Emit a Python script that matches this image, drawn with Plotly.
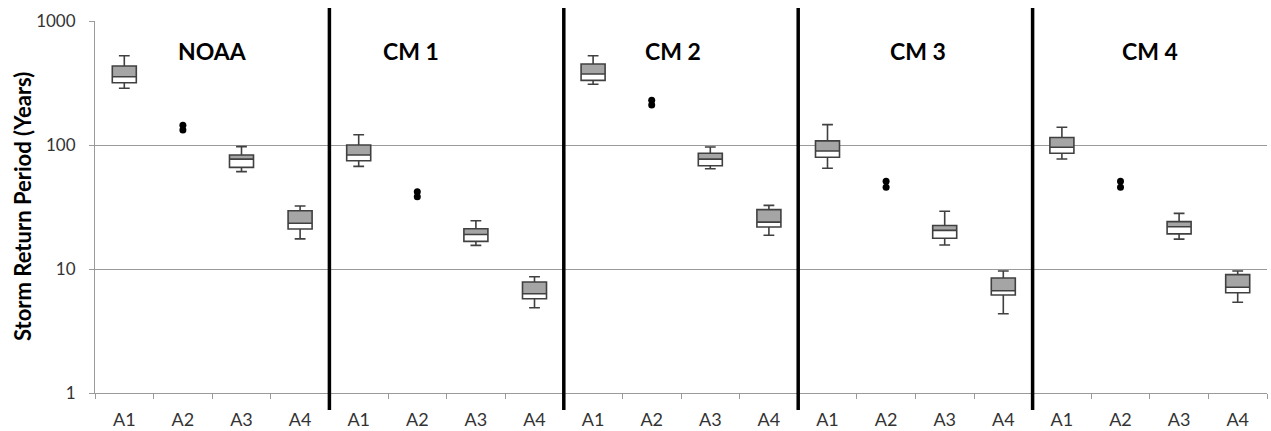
import plotly.graph_objects as go

# Model groups and the sub-categories plotted inside each group
groups = ["NOAA", "CM 1", "CM 2", "CM 3", "CM 4"]
sub_labels = ["A1", "A2", "A3", "A4"]

# Box statistics (years) for A1, A3, A4 of each group, in group order
box_sub = ["A1", "A3", "A4"]
whisker_low = [287, 61, 17.5, 67.3, 15.5, 4.87, 309, 64.4, 18.7, 64.9, 15.6, 4.36, 77.1, 17.4, 5.39]
q1 = [318, 66, 21.0, 74.7, 16.7, 5.76, 332, 68.1, 21.8, 79.6, 17.7, 6.17, 85.7, 19.2, 6.44]
median = [355, 77, 23.4, 83, 19.0, 6.32, 374, 77, 23.9, 89.5, 20.5, 6.68, 95.8, 21.9, 7.12]
q3 = [434, 83, 29.5, 100, 21.1, 7.86, 450, 85.7, 30.1, 108, 22.4, 8.46, 115, 24.1, 9.0]
whisker_high = [525, 97, 32.2, 121, 24.5, 8.67, 525, 96.4, 32.6, 146, 29.2, 9.64, 139, 28.1, 9.64]

# A2 has only two values per group, shown as points
a2_values = {
    "NOAA": [144, 132],
    "CM 1": [42, 38.3],
    "CM 2": [230, 210],
    "CM 3": [51, 45.6],
    "CM 4": [51, 45.6],
}

n_sub = len(sub_labels)
box_x = [g * n_sub + sub_labels.index(s) for g in range(len(groups)) for s in box_sub]
a2_x, a2_y = [], []
for g, name in enumerate(groups):
    for v in a2_values[name]:
        a2_x.append(g * n_sub + sub_labels.index("A2"))
        a2_y.append(v)

tick_pos = list(range(len(groups) * n_sub))
tick_text = sub_labels * len(groups)

box_w = 0.41
line_col = "#404040"
font_family = "Lato, 'Open Sans', sans-serif"

fig = go.Figure()

# Upper half of each box (median to Q3) filled gray
fig.add_trace(go.Bar(
    x=box_x,
    base=median,
    y=[b - a for a, b in zip(median, q3)],
    width=box_w,
    marker=dict(color="#a5a5a5", line=dict(width=0)),
    showlegend=False,
    hoverinfo="skip",
))

# Box outlines, medians and whiskers
fig.add_trace(go.Box(
    x=box_x,
    q1=q1,
    median=median,
    q3=q3,
    lowerfence=whisker_low,
    upperfence=whisker_high,
    width=box_w,
    whiskerwidth=0.45,
    boxpoints=False,
    fillcolor="rgba(0,0,0,0)",
    line=dict(color=line_col, width=1.6),
    showlegend=False,
))

# A2 points
fig.add_trace(go.Scatter(
    x=a2_x,
    y=a2_y,
    mode="markers",
    marker=dict(color="#000000", size=7),
    showlegend=False,
))

# Heavy separators between model groups
for g in range(1, len(groups)):
    xv = g * n_sub - 0.5
    fig.add_shape(type="line", xref="x", yref="paper",
                  x0=xv, x1=xv, y0=-0.046, y1=1.035,
                  line=dict(color="#000000", width=3.5))

# Group titles
group_label_x = [1.5, 4.9, 9.36, 13.55, 17.5]
for name, gx in zip(groups, group_label_x):
    fig.add_annotation(x=gx, y=0.92, xref="x", yref="paper",
                       text="<b>%s</b>" % name, showarrow=False,
                       font=dict(family=font_family, size=23, color="#000000"),
                       xanchor="center", yanchor="middle")

# Y axis title
fig.add_annotation(x=-73 / 1172, y=0.50, xref="paper", yref="paper",
                   text="<b>Storm Return Period (Years)</b>", textangle=-90,
                   showarrow=False,
                   font=dict(family=font_family, size=22, color="#000000"),
                   xanchor="center", yanchor="middle")

fig.update_layout(
    width=1271, height=431,
    margin=dict(l=95, r=4, t=21, b=38),
    paper_bgcolor="white",
    plot_bgcolor="white",
    bargap=0,
    font=dict(family=font_family, size=17, color="#333333"),
)

fig.update_xaxes(
    automargin=False,
    range=[-0.5, len(tick_pos) - 0.5],
    tickmode="array", tickvals=tick_pos, ticktext=tick_text,
    ticks="outside", ticklen=0, ticklabelstandoff=10,
    tickfont=dict(family=font_family, size=18, color="#333333"),
    showgrid=False, zeroline=False,
    showline=True, linecolor="#9a9a9a", linewidth=1,
    minor=dict(tick0=-0.5, dtick=1, ticks="outside", ticklen=5,
               tickcolor="#9a9a9a", tickwidth=1, showgrid=False),
)

fig.update_yaxes(
    automargin=False,
    type="log", range=[0, 3],
    tickmode="array", tickvals=[1, 10, 100, 1000], ticktext=["1", "10", "100", "1000"],
    ticks="outside", ticklen=5, tickcolor="#9a9a9a",
    ticklabelstandoff=10,
    tickfont=dict(family=font_family, size=17, color="#333333"),
    showgrid=True, gridcolor="#9a9a9a", gridwidth=1,
    showline=True, linecolor="#9a9a9a", linewidth=1,
    zeroline=False,
)

fig.write_html("out.html")
